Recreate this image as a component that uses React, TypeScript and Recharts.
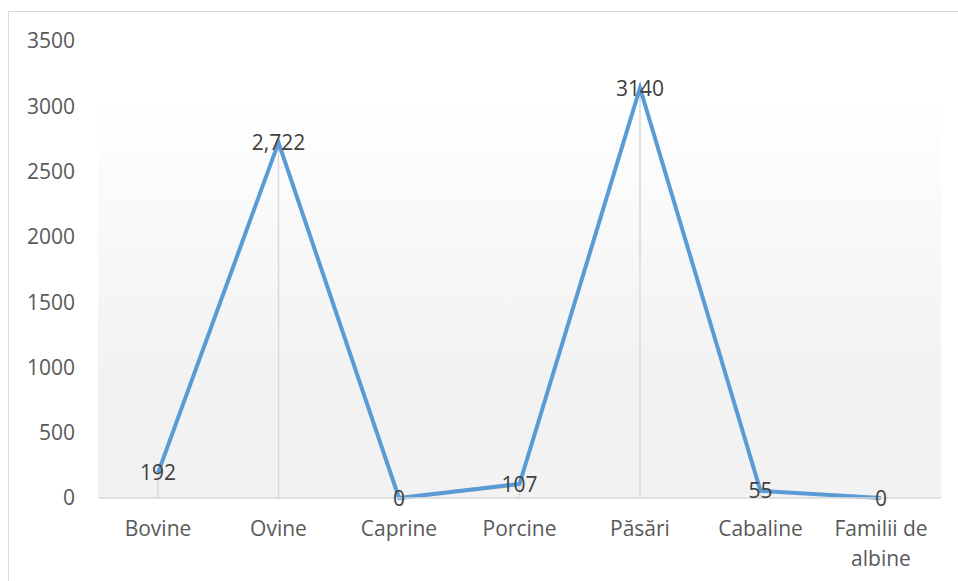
import React from "react";
import { LineChart, Line, XAxis, YAxis, CartesianGrid, ReferenceLine } from "recharts";

const categories = ["Bovine", "Ovine", "Caprine", "Porcine", "Păsări", "Cabaline", "Familii de albine"];
const tickLines: string[][] = [["Bovine"], ["Ovine"], ["Caprine"], ["Porcine"], ["Păsări"], ["Cabaline"], ["Familii de", "albine"]];
const values = [192, 2722, 0, 107, 3140, 55, 0];
const valueLabels = ["192", "2,722", "0", "107", "3140", "55", "0"];
const yTicks = [0, 500, 1000, 1500, 2000, 2500, 3000, 3500];

const data = categories.map((c, i) => ({ name: c, value: values[i] }));

const FONT = "'Open Sans', 'Noto Sans', sans-serif";

const XTick = (props: any) => {
  const { x, y, payload, index } = props;
  const lines = tickLines[index] || [payload.value];
  return (
    <g>
      {lines.map((l, i) => (
        <text key={i} x={x} y={y + i * 30} dy="0.71em" textAnchor="middle" fill="#595959" fontSize={21} fontFamily={FONT}>
          {l}
        </text>
      ))}
    </g>
  );
};

const renderLabel = (props: any) => {
  const { x, y, index } = props;
  return (
    <text key={index} x={x} y={y} dy="0.36em" textAnchor="middle" fill="#404040" fontSize={21} fontFamily={FONT}>
      {valueLabels[index]}
    </text>
  );
};

export default function App() {
  return (
    <div style={{ position: "absolute", left: 0, top: 0, width: 958, height: 581, overflow: "hidden", background: "#fff" }}>
      <div style={{ position: "absolute", left: 8, top: 11, width: 1000, height: 700, borderTop: "1.5px solid #d9d9d9", borderLeft: "1.5px solid #d9d9d9", boxSizing: "border-box" }} />
      <div style={{ position: "absolute", left: 0, top: 0 }}>
        <LineChart width={958} height={581} data={data} margin={{ top: 41, right: 17, left: 0, bottom: 0 }}>
          <defs>
            <linearGradient id="bg" x1="0" y1="0" x2="0" y2="1">
              <stop offset="0.12" stopColor="#ffffff" />
              <stop offset="0.72" stopColor="#f2f2f2" />
              <stop offset="1" stopColor="#f2f2f2" />
            </linearGradient>
          </defs>
          <CartesianGrid horizontal={false} vertical={false} fill="url(#bg)" stroke="none" />
          <XAxis
            dataKey="name"
            padding={{ left: 60, right: 60 }}
            height={83}
            tickLine={false}
            axisLine={{ stroke: "#d9d9d9", strokeWidth: 1.5 }}
            tick={<XTick />}
            tickMargin={17}
            interval={0}
          />
          <YAxis
            width={98}
            domain={[0, 3500]}
            ticks={yTicks}
            axisLine={false}
            tickLine={false}
            tickMargin={17}
            tick={{ fill: "#595959", fontSize: 21, fontFamily: FONT }}
          />
          {data.map((d) =>
            d.value > 0 ? (
              <ReferenceLine
                key={d.name}
                segment={[{ x: d.name, y: 0 }, { x: d.name, y: d.value }]}
                stroke="#d9d9d9"
                strokeWidth={1.5}
              />
            ) : null
          )}
          <Line
            dataKey="value"
            stroke="#5b9bd5"
            strokeWidth={4}
            dot={false}
            activeDot={false}
            isAnimationActive={false}
            label={renderLabel}
          />
        </LineChart>
      </div>
    </div>
  );
}
